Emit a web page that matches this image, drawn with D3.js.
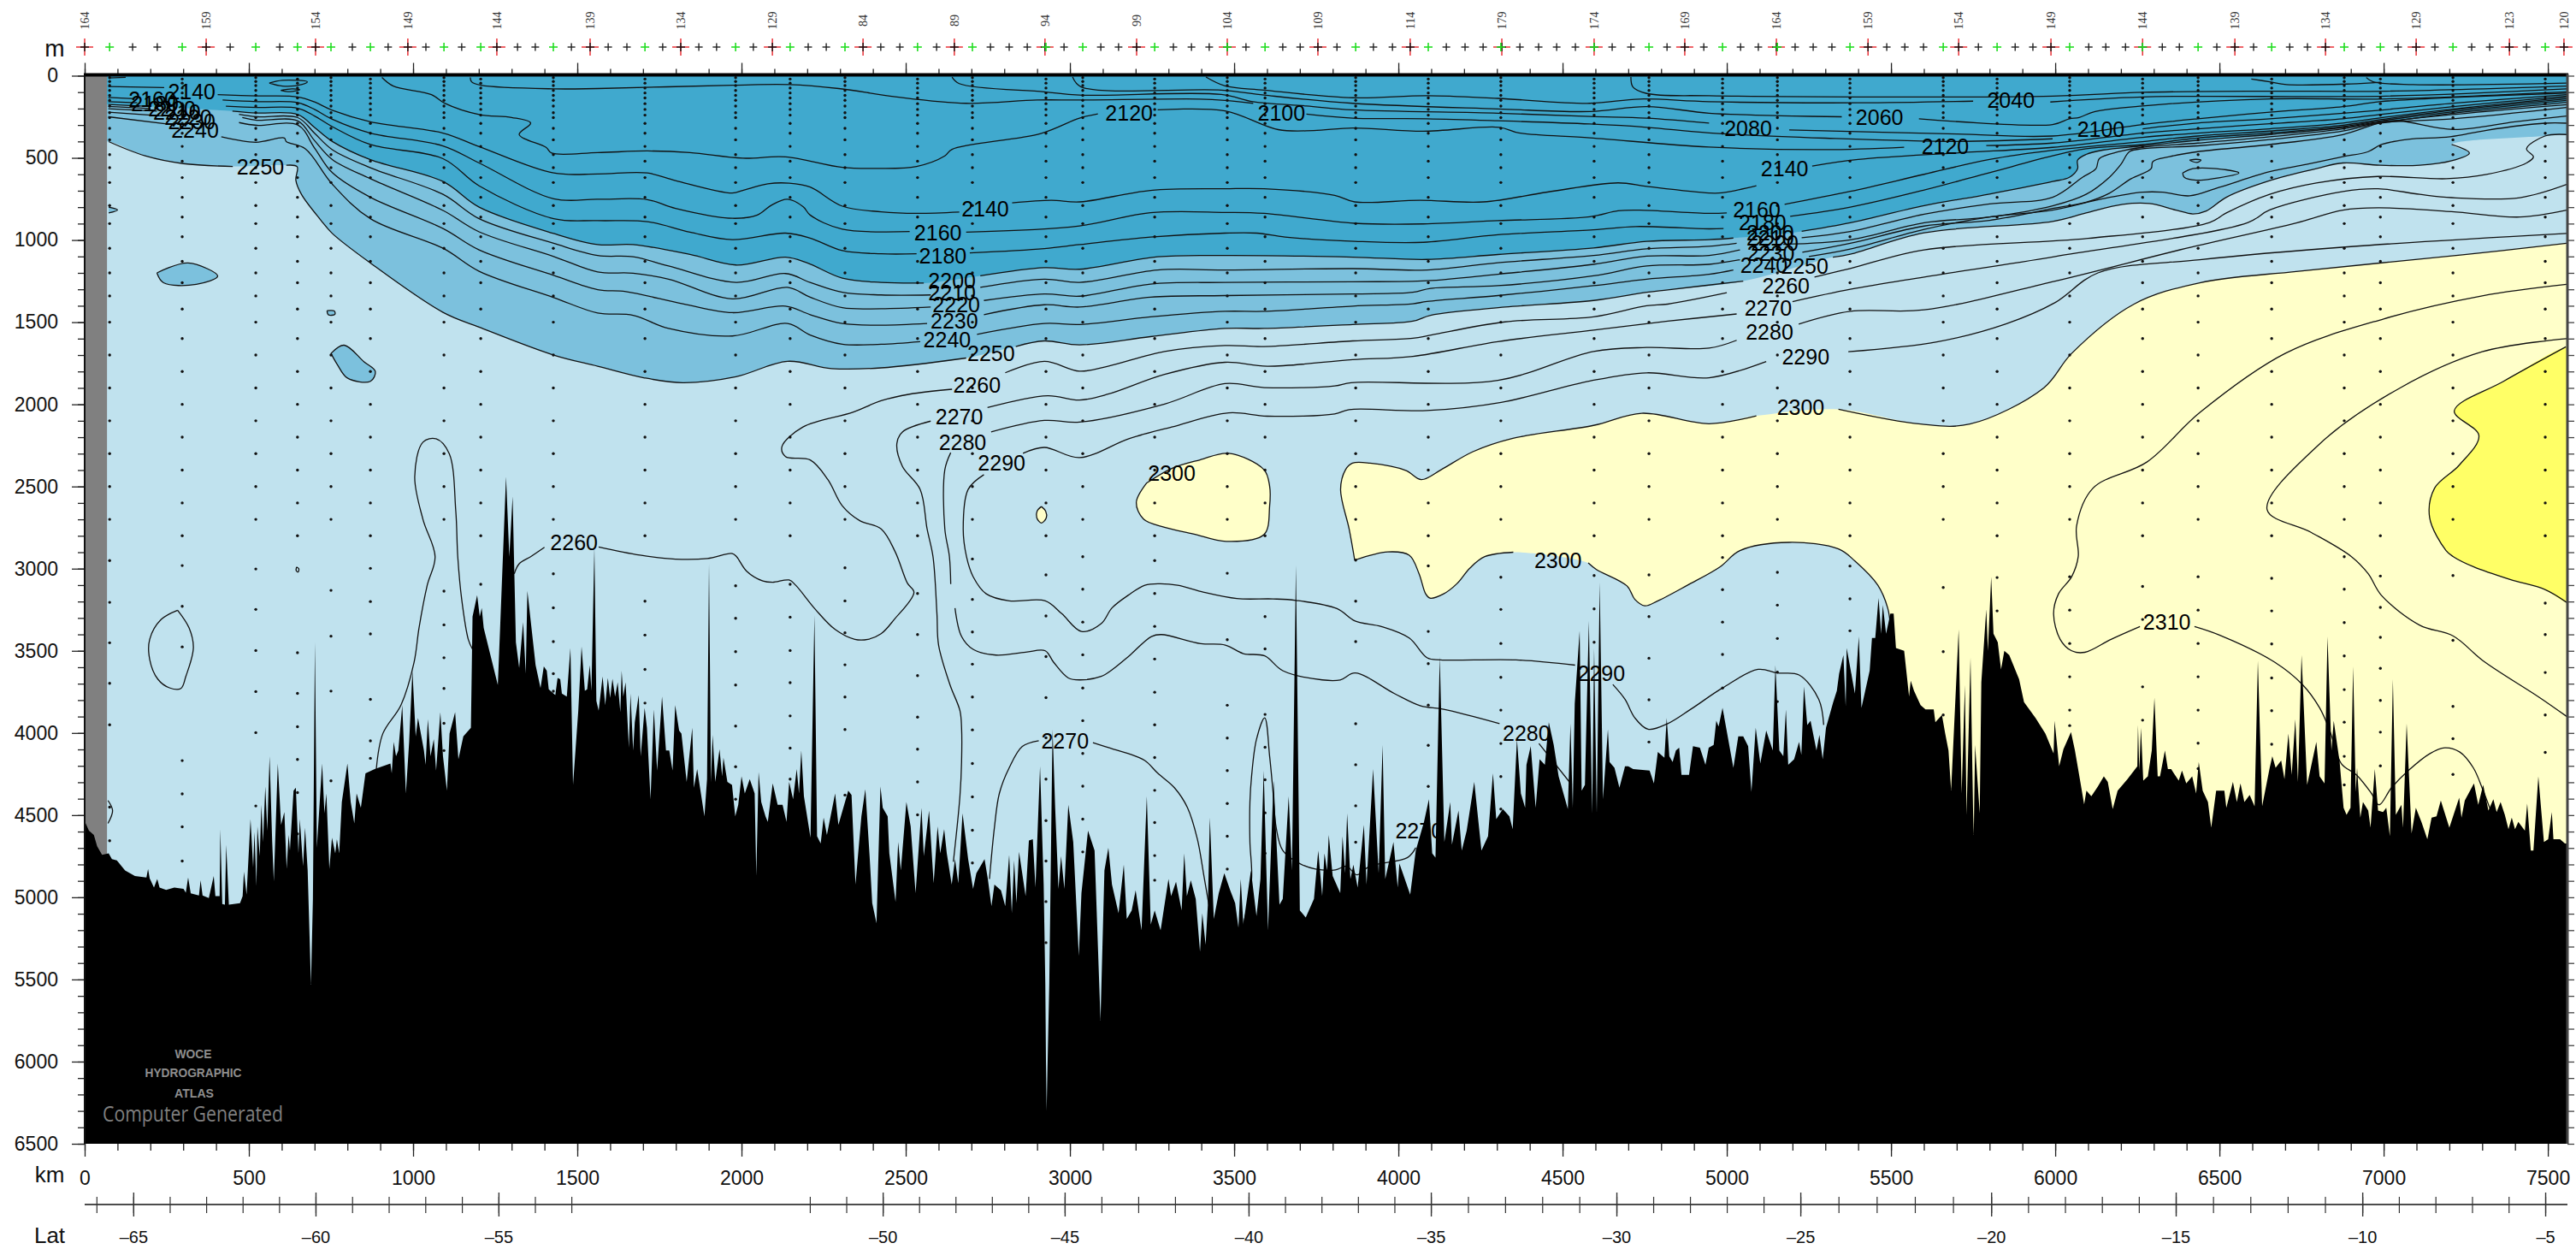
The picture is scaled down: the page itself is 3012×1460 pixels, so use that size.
<!DOCTYPE html>
<html><head><meta charset="utf-8">
<script src="https://d3js.org/d3.v7.min.js"></script>
<style>html,body{margin:0;padding:0;background:#fff}svg{display:block}text{font-family:"Liberation Sans",Arial,sans-serif}</style>
</head><body><svg id="c" width="3012" height="1460"></svg>
<script>
// ---------- axes data ----------
const depthMajor=[0,500,1000,1500,2000,2500,3000,3500,4000,4500,5000,5500,6000,6500];
const kmMajor=[0,500,1000,1500,2000,2500,3000,3500,4000,4500,5000,5500,6000,6500,7000,7500];
const latMajor=[-65,-60,-55,-50,-45,-40,-35,-30,-25,-20,-15,-10,-5];
const latKnots=[-66,-65,-60,-55,-53,-52,-50,-45,-40,-35,-30,-25,-20,-15,-10,-5];
const latKnotKm=[36,148,703,1260,1482,2208,2430,2984,3544,4099,4664,5224,5805,6367,6935,7492];
// ---------- stations ----------
const stationLabels=["164","159","154","149","144","139","134","129","84","89","94","99","104","109","114","179","174","169","164","159","154","149","144","139","134","129","123","120"];
const stationKmRed=[0,370,703,984,1255,1539,1815,2094,2370,2648,2924,3203,3479,3755,4036,4315,4596,4872,5151,5430,5706,5987,6266,6547,6823,7099,7383,7549];
const stationKmGreen=[76,297,521,648,750,870,1094,1206,1427,1706,1982,2148,2315,2536,2703,2927,3039,3258,3479,3594,3870,4091,4312,4596,4763,4987,5154,5375,5659,5823,6044,6266,6435,6659,6880,6990,7211,7492];
const stationKmBlack=[146,221,443,594,815,924,1039,1148,1318,1372,1482,1594,1651,1760,1870,1924,2036,2203,2258,2424,2482,2594,2758,2815,2870,2982,3094,3148,3315,3370,3424,3536,3648,3701,3813,3924,3982,4146,4203,4258,4370,4427,4482,4539,4651,4708,4818,4930,5042,5096,5208,5263,5320,5487,5542,5599,5766,5878,5932,6102,6154,6214,6326,6378,6492,6604,6714,6768,6932,7044,7156,7268,7323,7435];
// bottle depths per green station
const levelsA=[12,35,60,90,120,150,185,225,255,320,390,480,560,650,790,900,1050,1200,1340,1500,1700,1900,2100,2300,2500,2700];
const levelsB=[20,45,75,105,135,170,205,240,290,350,430,520,620,740,860,980,1130,1260,1420,1600,1800,2000,2200,2400,2600,2800];
const bottleDeep=[
[2951,3205,3451,3698,3950,4451,4656],[2981,3229,3476,4168,4371,4571,4779],[3002,3248,3498,3748,3998,4444],[3512,3759,3962,4161,4363,4614],[3132,3411,3745,4291],[2998,3200,3397,3795,4048,4154],[3137,3342,3542,3729,3941,4107],[3095,3298],[3031,3238,3444,3639,3746],
[3198,3404,3613,3818],[3104,3302,3505,3708,3958,4205,4403],[3095,3295,3498,3694,3896,4092,4281],[2995,3196,3390,3585,3781,3979,4378,4472],[3151,3401,3651,3903,4099,4298,4498],[2941,3187,3385,3581,3781,3981,4186,4389,4592,4791],[3038,3288,3535,3785,4029,4281,4533,4779,5026,5276],[2927,3125,3325,3524,3726,3925,4125,4324,4524,4724],
[2951,3151,3351,3550,3752,3950,4149,4349,4545,4746,4896],[3028,3432,3831,4031,4229,4429,4628,4828],[3292,3488,3887,4087,4285,4486,4732,4972],[2948,3198,3444,3944,4193,4443,4665],[2983,3382,3578,3830,4075,4325,4521],[3052,3248,3455,3661,3861,4064,4265,4463],[3042,3245,3448],
[3038,3292,3545,3798,4055],[2932,3128,3325,3522,3726,3899],[3022,3222,3425,3630,3809],[2984,3184,3378,3647],[3115,3505,3890],[3054,3257,3500],[3049,3252,3455,3658,3861,3955],
[3108,3309,3719,3922],[3049,3252,3455,3658,3861,4062,4217],[3059,3257,3458,3665,3864,4069],[2927,3125,3328,3531,3736,3934,4142,4316],[3045,3236,3418,3607,3802,3995,4200],[3042,3436,3838,4035,4252],[3210,3401,3632,3890,4118]];
// ---------- contours (km, m); null = gap at a label ----------
const c2020=[[4708,8],[4714,68],[4756,108],[4946,122],[5992,124],[6266,101],[6653,94],[7008,94],[7557,63]];
const c2040=[[3414,8],[3472,62],[3591,88],[3861,134],[4087,122],[4303,138],[4583,168],[4734,142],[4946,158],[5400,165],[5750,155],null,[5985,160],[6266,129],[7008,124],[7557,80]];
const c2060=[[3008,8],[3034,68],[3461,88],[3591,118],[3861,168],[4303,202],[4583,218],[4756,188],[4946,228],[5200,245],[5350,250],null,[5585,262],[5992,297],[6043,262],[6073,254],[6119,219],[6266,184],[6653,141],[7008,141],[7557,98]];
const c2080=[[2641,8],[2663,48],[2922,98],[3029,118],[3461,114],[3558,158],[3720,184],[3861,208],[4303,228],[4583,248],[4756,258],[4946,288],null,[5190,330],[5700,355],[5992,367],[6266,297],[6434,262],[6653,222],[6876,188],[6988,158],[7212,132],[7557,106]];
const c2100=[[1174,10],[1178,37],[1207,58],[1428,80],[1562,78],[1972,58],[2145,54],[2296,78],[2468,128],[2684,168],[2900,148],[3029,148],[3396,142],[3472,150],[3558,168],null,[3720,234],[3861,258],[4087,262],[4303,274],[4583,294],[4756,314],[4946,348],[5300,380],[5700,400],[5992,384],null,[6266,323],[6434,288],[6653,262],[6876,228],[6988,210],[7212,167],[7557,115]];
const c2120=[[905,10],[940,63],[1056,115],[1096,167],[1201,236],[1300,254],[1358,288],[1323,358],[1405,436],[1422,471],[1562,468],[1713,458],[1843,468],[2004,502],[2134,494],[2307,558],[2414,564],[2533,552],[2619,488],[2641,448],[2911,352],[3029,258],[3085,232],null,[3267,208],[3472,214],[3634,328],[3742,334],[3861,318],[4076,338],[4307,314],[4367,348],[4583,378],[4946,434],[5300,450],[5540,435],null,[5790,425],[5992,410],[6266,349],[6434,323],[6653,292],[6876,262],[6988,236],[7212,188],[7557,124]];
const c2140=[[72,66],[242,72],null,[405,115],[524,123],[649,129],[700,160],[754,210],[870,280],[1091,349],[1201,431],[1428,592],[1562,598],[1713,592],[1799,638],[1972,714],[2004,698],[2080,658],[2145,654],[2209,678],[2307,794],[2425,828],[2533,838],[2663,830],null,[2824,774],[2943,758],[3029,768],[3245,698],[3472,688],[3591,688],[3806,728],[3867,768],[4066,758],[4259,768],[4454,708],[4669,652],[4756,674],[4946,714],[4985,713],[5090,670],null,[5260,550],[5400,510],[5700,470],[5992,436],[6266,375],[6434,349],[6653,323],[6876,288],[6988,257],[7212,202],[7557,132]];
const c2160=[[72,132],[150,140],null,[420,148],[524,158],[649,164],[700,205],[754,265],[870,349],[1091,427],[1201,531],[1428,749],[1562,752],[1713,754],[1799,808],[1972,868],[2048,848],[2091,788],[2140,752],[2188,798],[2209,848],[2307,934],[2512,948],null,[2684,952],[3029,914],[3245,834],[3472,832],[3591,838],[3867,898],[4076,902],[4303,882],[4583,858],[4669,822],[4734,818],[4946,838],[5000,835],null,[5176,783],[5376,704],[5601,600],[5800,510],[5992,454],[6266,401],[6434,367],[6653,337],[6876,301],[6988,268],[7212,210],[7557,141]];
const c2180=[[72,158],[160,165],null,[430,185],[524,193],[649,198],[700,245],[754,310],[870,419],[1091,505],[1201,670],[1428,870],[1562,882],[1713,888],[1843,952],[1972,998],[2134,958],[2209,988],[2307,1064],[2425,1084],[2533,1084],null,[2695,1078],[2922,1052],[3029,1028],[3245,982],[3472,958],[3569,958],[3655,982],[3867,1008],[4076,1014],[4303,968],[4594,938],[4723,918],[4946,932],[4990,930],null,[5193,856],[5376,800],[5601,696],[5800,590],[5992,488],[6094,445],[6266,419],[6434,379],[6653,349],[6876,309],[6988,275],[7212,219],[7557,150]];
const c2200=[[72,175],[180,185],null,[450,215],[524,227],[649,236],[700,315],[754,400],[870,511],[1091,644],[1201,800],[1428,960],[1562,1028],[1670,1028],[1843,1088],[1983,1152],[2134,1104],[2199,1138],[2307,1232],[2425,1258],[2555,1262],null,[2727,1218],[2922,1168],[3029,1178],[3267,1102],[3472,1094],[3861,1104],[4087,1118],[4303,1088],[4594,1048],[4756,1008],[4946,998],[5020,988],null,[5228,947],[5376,895],[5601,791],[5800,720],[5992,644],[6043,618],[6068,566],[6068,514],[6094,479],[6144,453],[6266,427],[6434,393],[6653,358],[6876,315],[6988,280],[7049,271],[7212,228],[7491,175],[7557,162]];
const c2210=[[72,187],[200,200],null,[470,235],[524,250],[649,255],[700,350],[754,450],[870,560],[1091,722],[1201,870],[1428,1020],[1562,1094],[1670,1102],[1778,1158],[1983,1258],[2134,1204],[2209,1258],[2307,1318],[2425,1334],[2576,1334],null,[2727,1288],[2922,1238],[3029,1258],[3267,1182],[3472,1182],[3861,1174],[4087,1182],[4303,1138],[4594,1094],[4756,1054],[4946,1038],[5030,1020],null,[5228,986],[5376,948],[5601,843],[5800,780],[5992,740],[6083,618],[6124,566],[6134,505],[6195,462],[6266,436],[6434,410],[6653,372],[6876,323],[6988,285],[7212,236],[7557,176]];
const c2220=[[72,201],[220,215],null,[480,255],[524,271],[649,275],[700,395],[754,510],[870,627],[1091,820],[1201,950],[1428,1100],[1562,1194],[1670,1202],[1778,1238],[1972,1358],[2140,1288],[2209,1348],[2307,1412],[2425,1418],[2576,1408],null,[2738,1368],[2922,1328],[3029,1342],[3245,1268],[3472,1258],[3861,1254],[4087,1248],[4303,1208],[4594,1148],[4756,1098],[4946,1094],[5040,1060],null,[5172,1026],[5376,999],[5601,895],[5800,860],[5992,792],[6094,722],[6165,618],[6200,540],[6226,462],[6266,445],[6434,427],[6653,389],[6876,337],[6988,288],[7212,262],[7557,193]];
const c2230=[[72,222],[240,245],null,[470,285],[524,302],[649,300],[700,440],[754,590],[870,740],[1091,930],[1201,1060],[1428,1215],[1562,1302],[1648,1314],[1821,1388],[1972,1442],[2134,1402],[2209,1454],[2307,1508],[2425,1518],[2565,1508],null,[2738,1454],[2922,1394],[3029,1408],[3245,1348],[3472,1338],[3861,1328],[4044,1318],[4098,1294],[4303,1278],[4594,1218],[4756,1158],[4946,1148],[5040,1120],null,[5230,1075],[5376,1020],[5601,915],[5800,880],[5992,808],[6094,770],[6165,715],[6231,627],[6292,566],[6297,523],[6348,493],[6434,462],[6653,419],[6876,358],[6988,288],[7049,276],[7212,327],[7400,280],[7557,245]];
const c2240=[[72,250],[255,295],null,[416,372],[521,405],[608,379],[614,401],[672,445],[754,660],[870,870],[1091,1050],[1201,1190],[1428,1350],[1562,1444],[1670,1458],[1778,1538],[1972,1584],[2140,1508],[2209,1578],[2307,1634],[2425,1634],[2544,1618],null,[2717,1574],[2922,1508],[3029,1514],[3245,1468],[3472,1434],[3591,1434],[3861,1402],[4044,1388],[4087,1374],[4303,1338],[4594,1278],[4756,1238],[4946,1208],[5020,1182],null,[5250,1100],[5376,1055],[5601,935],[5800,860],[5992,818],[6144,749],[6266,709],[6327,709],[6409,731],[6500,679],[6653,584],[6765,540],[6876,493],[6953,462],[6993,419],[7075,387],[7202,372],[7313,332],[7491,289],[7557,289]];
const c2250=[[73,401],[184,488],[300,535],[451,552],null,[614,545],[647,554],[643,636],[660,722],[719,879],[754,960],[870,1140],[1091,1440],[1201,1530],[1428,1700],[1562,1768],[1702,1838],[1821,1868],[1983,1832],[2140,1738],[2274,1782],[2425,1778],[2684,1718],null,[2835,1648],[2922,1614],[3029,1638],[3245,1588],[3472,1538],[3591,1538],[3861,1514],[4044,1494],[4098,1458],[4325,1408],[4594,1368],[4756,1318],[4820,1303],[5050,1250],null,[5323,1104],[5376,1086],[5601,956],[5992,887],[6094,835],[6205,783],[6287,778],[6368,818],[6419,841],[6460,823],[6521,740],[6653,639],[6795,566],[6876,531],[6988,545],[7110,545],[7207,518],[7261,471],[7207,419]];
const c2260=[[1308,3031],[1323,2970],[1358,2927],[1400,2870],null,[1565,2868],[1691,2918],[1799,2942],[1896,2938],[1972,2908],[1985,2927],[2015,3014],[2065,3075],[2095,3083],[2145,3069],[2165,3101],[2225,3248],[2285,3370],[2345,3430],[2385,3430],[2425,3396],[2465,3309],[2525,3144],[2505,3088],[2468,2898],[2425,2758],[2360,2708],[2307,2618],[2263,2458],[2209,2338],[2134,2318],[2123,2258],[2187,2138],[2339,2048],[2425,1978],[2512,1938],[2641,1908],null,[2803,1808],[2922,1738],[3029,1798],[3116,1768],[3288,1678],[3472,1642],[3591,1648],[3861,1614],[4044,1598],[4100,1578],[4325,1498],[4594,1468],[4756,1400],[4820,1390],[5000,1321],null,[5267,1225],[5376,1173],[5601,1060],[6100,990],[6470,893],[6521,835],[6653,722],[6795,653],[6983,613],[7191,627],[7313,601],[7435,531],[7456,494],[7435,445],[7491,367],[7557,358]];
const c2260Loop=[[1181,3491],[1168,3430],[1148,3187],[1136,2927],[1130,2650],[1110,2300],[1070,2210],[1030,2230],[1005,2440],[1030,2700],[1067,2927],[1043,3101],[1018,3361],[1003,3569],[963,3830],[908,4003],[888,4220]];
const c2270=[[2645,4784],[2665,4385],[2670,4177],[2670,3969],[2665,3864],[2635,3708],[2600,3465],[2595,3274],[2583,2927],[2565,2758],[2544,2518],[2490,2378],[2473,2238],[2490,2168],[2576,2102],null,[2749,2020],[2932,1948],[3029,1974],[3116,1938],[3288,1818],[3472,1744],[3601,1768],[3861,1728],[4044,1708],[4303,1618],[4594,1548],[4820,1494],[5030,1450],null,[5200,1375],[5376,1300],[5601,1225],[6000,1100],[6587,893],[6653,817],[6876,705],[6983,688],[7110,722],[7207,742],[7415,742],[7557,662]];
const c2270Low=[[2755,4889],[2770,4576],[2785,4368],[2815,4212],[2855,4082],[2905,4047],null,[3070,4059],[3133,4099],[3178,4125],[3228,4168],[3268,4246],[3318,4333],[3358,4455],[3388,4646],[3408,4871],[3423,5045]];
const c2270Low2=[[3528,5166],[3553,4889],[3548,4663],[3548,4420],[3553,4264],[3568,4038],[3593,3908],[3608,4142],[3618,4351],[3628,4576],[3648,4715],[3698,4793],[3748,4828],[3808,4833],[3843,4811],[3873,4863],[3913,4811],[4028,4758],[4053,4698]];
const c2280=[[2637,3094],[2633,2927],[2619,2758],[2619,2398],[2637,2294],null,[2760,2168],[2922,2098],[3029,2108],[3288,1998],[3472,1874],[3591,1898],[3806,1888],[3856,1868],[4303,1854],[4594,1678],[4756,1654],[4946,1658],[5030,1610],null,[5219,1512],[5376,1434],[5601,1425],[6000,1250],[6400,1050],[6734,896],[6876,818],[6983,804],[7207,827],[7415,860],[7557,818]];
const c2280Low=[[2650,3240],[2670,3413],[2705,3491],[2775,3526],[2865,3508],[2925,3500],[2950,3569],[2995,3665],[3030,3677],[3095,3656],[3128,3616],[3178,3535],[3248,3413],[3278,3401],[3398,3456],[3473,3465],[3528,3517],[3593,3531],[3648,3621],[3768,3677],[3823,3677],[3868,3635],[3988,3760],[4068,3835],[4138,3856],[4308,3943],null,[4428,4064],[4528,4316]];
const c2290=[[2857,2298],[2922,2262],[3029,2324],[3181,2208],[3310,2138],[3483,2052],[3601,2072],[3806,2058],[3850,2032],[4087,2038],[4313,1988],[4583,1858],[4756,1808],[4946,1838],[5120,1740],null,[5370,1680],[5640,1620],[5850,1510],[6000,1380],[6130,1200],[6440,1120],[6900,1040],[7557,960]];
const c2290Low=[[2738,2428],[2690,2518],[2675,2758],[2685,2927],[2705,3048],[2745,3153],[2815,3196],[2925,3196],[2975,3274],[3035,3382],[3095,3335],[3128,3239],[3178,3161],[3228,3101],[3273,3092],[3328,3101],[3408,3144],[3508,3182],[3618,3184],[3688,3193],[3813,3243],[3868,3318],[3948,3352],[4033,3422],[4088,3543],[4128,3555],[4358,3555],[4538,3587],null,[4653,3705],[4690,3795],[4720,3908],[4760,3977],[4820,3943],[4890,3856],[4987,3726],[5095,3613],[5155,3635],[5220,3647],[5280,3795],[5295,3951]];
const c2300North=[[3867,2948],[3850,2758],[3824,2518],[3839,2398],[3860,2358],[3914,2358],[4022,2402],[4070,2458],[4130,2398],[4227,2288],[4346,2208],[4594,2128],[4741,2054],[4946,2118],[5090,2070],null,[5340,2030],[5590,2120],[5740,2120],[5965,1900],[6050,1690],[6240,1390],[6440,1260],[6740,1190],[7240,1090],[7557,1020]];
const c2300South=[[3867,2948],[3968,2898],[4033,2918],[4063,3031],[4083,3153],[4096,3179],[4138,3153],[4178,3092],[4218,2996],[4263,2927],[4350,2900],null,[4578,2965],[4603,3005],[4696,3105],[4720,3187],[4750,3226],[4790,3196],[4880,3101],[4980,2988],[5040,2890],[5190,2840],[5340,2880],[5390,2953],[5460,3101],[5490,3240],[5498,3344]];
const c2300Lobe=[[3234,2478],[3202,2598],[3224,2698],[3288,2748],[3375,2788],[3476,2834],[3591,2792],[3608,2618],[3608,2498],[3591,2398],[3483,2298],[3396,2338],[3310,2390],[3234,2478]];
const c2300Tiny=[[2913,2622],[2926,2650],[2928,2690],[2913,2722],[2899,2690],[2900,2650],[2913,2622]];
const c2310A=[[7557,1270],[7300,1340],[7000,1480],[6700,1690],[6440,2050],[6280,2350],[6115,2510],[6065,2740],[6070,2927],[6050,3049],[6010,3153],[5995,3274],[6015,3430],[6050,3500],[6090,3509],[6170,3430],[6258,3352],null,[6424,3352],[6500,3404],[6668,3569],[6754,3708],[6805,3847],[6836,3986],[6871,4186],[6917,4255],[6963,4368],[6986,4437],[7024,4333],[7075,4229],[7141,4125],[7186,4090],[7232,4116],[7273,4212],[7303,4351],[7329,4489]];
const c2310B=[[7557,1600],[7300,1680],[7050,1900],[6800,2250],[6645,2640],[6780,2780],[6902,2927],[6953,3031],[6993,3162],[7110,3344],[7212,3410],[7303,3561],[7476,3786],[7557,3899]];
const c2320=[[7555,1650],[7365,1860],[7215,2040],[7290,2190],[7230,2370],[7155,2510],[7140,2690],[7190,2890],[7212,2927],[7273,2988],[7385,3066],[7491,3127],[7557,3205]];
const islands=[
 {fill:1,pts:[[220,1200],[315,1140],[405,1220],[340,1270],[240,1260],[220,1200]]},
 {fill:1,pts:[[750,1690],[790,1640],[850,1740],[885,1800],[870,1860],[800,1840],[770,1760],[750,1690]]},
 {fill:1,pts:[[738,1430],[760,1432],[762,1452],[742,1455],[738,1430]]},
 {fill:1,pts:[[73,800],[100,817],[73,835]]},
 {fill:0,pts:[[562,45],[602,28],[678,37],[660,54],[602,63],[562,45]]},
 {fill:0,pts:[[597,89],[631,80],[655,85],[625,97],[597,89]]},
 {fill:0,pts:[[283,3253],[233,3309],[198,3430],[198,3552],[223,3673],[258,3725],[293,3729],[308,3656],[331,3482],[318,3361],[283,3253]]},
 {fill:0,pts:[[645,2990],[652,3000],[650,3020],[644,3012],[645,2990]]},
 {fill:0,pts:[[71,4411],[85,4472],[71,4550]]},
 {fill:0,pts:[[6388,592],[6419,566],[6490,566],[6559,592],[6480,627],[6429,636],[6393,618],[6388,592]]},
 {fill:0,pts:[[6409,514],[6429,509],[6444,514],[6431,528],[6409,514]]},
 {fill:0,pts:[[6597,20],[6653,37],[6704,54],[6900,50],[6990,40]]},
 {fill:0,pts:[[6947,11],[6968,37],[7090,54],[7557,45]]},
 {fill:0,pts:[[73,14],[125,10]]}];
const labels=[["2140",326,94],["2160",206,141],["2180",214,167],["2200",266,203],["2210",281,219],["2220",315,255],["2230",326,281],["2240",336,333],["2250",535,557],
["2140",2742,808],["2160",2598,954],["2180",2613,1094],["2200",2641,1248],["2210",2641,1318],["2220",2654,1394],["2230",2648,1494],["2240",2626,1608],["2250",2760,1688],["2260",2717,1882],["2270",2663,2074],["2280",2673,2232],["2290",2792,2354],["2300",3310,2418],["2300",4486,2948],["2120",3180,224],["2100",3644,224],
["2080",5065,320],["2060",5465,250],["2040",5865,150],["2100",6139,327],["2120",5665,430],["2140",5176,566],["2160",5091,817],["2180",5109,892],["2200",5132,956],["2210",5132,986],["2220",5146,1017],["2230",5134,1078],["2240",5113,1151],["2250",5237,1159],["2260",5180,1277],["2270",5126,1413],["2280",5130,1560],["2290",5240,1710],["2300",5225,2020],["2310",6340,3325],["2270",2985,4047],["2280",4390,4003],["2290",4618,3639],["2260",1490,2840],["2270",4063,4597]];
// ---------- bottom topography (km, m) ----------
const bathyWest=[[0,4540],[3,4550],[13,4594],[28,4620],[38,4689],[53,4741],[73,4732],[83,4767],[98,4776],[123,4837],[153,4871],[188,4880],[193,4828],[198,4885],[211,4941],[221,4889],[228,4941],[248,4955],[273,4941],[301,4949],[308,4972],[315,4880],[323,4976],[348,4989],[353,4897],[359,4989],[378,5005],[393,4871],[398,4993],[411,4993],[413,4585],[419,5041],[427,5045],[431,4680],[439,5045],[473,5036],[481,4993],[485,4845],[493,4984],[505,4524],[513,4819],[517,4602],[523,4932],[526,4568],[533,4750],[538,4437],[543,4663],[550,4325],[556,4594],[563,4142],[571,4663],[576,4903],[588,4186],[598,4559],[608,4481],[615,4828],[621,4620],[625,4715],[636,4351],[643,4333],[651,4732],[655,4524],[665,4811],[671,4576],[679,4837],[689,5531],[695,5010],[701,3448],[707,4698],[723,4186],[730,4489],[736,4368],[745,4828],[753,4637],[763,4732],[768,4646],[775,4732],[783,4420],[800,4186],[810,4420],[821,4550],[828,4368],[841,4455],[855,4246],[883,4220],[931,4186],[935,4246],[941,4055],[948,4142],[955,4107],[967,3830],[978,4368],[988,4055],[998,3621],[1008,4021],[1015,3908],[1033,4107],[1038,4194],[1045,3917],[1053,4142],[1063,4038],[1070,4229],[1083,3873],[1091,4142],[1103,4351],[1111,4003],[1128,3873],[1138,4160],[1153,4021],[1176,3969],[1181,3292],[1195,3161],[1203,3292],[1209,3239],[1215,3361],[1258,3708],[1265,3361],[1283,2440],[1293,2927],[1303,2560],[1313,3448],[1323,3604],[1335,3326],[1343,3639],[1348,3135],[1373,3587],[1388,3726],[1398,3595],[1407,3621],[1413,3734],[1433,3769],[1440,3665],[1448,3673],[1453,3760],[1468,3778],[1479,3483],[1487,4316],[1503,3864],[1513,3474],[1523,3743],[1530,3734],[1538,3587],[1543,3743],[1552,2870],[1558,3804]];
const bathyMid1=[[1565,3864],[1577,3656],[1585,3830],[1593,3665],[1600,3786],[1607,3670],[1615,3778],[1623,3691],[1631,3873],[1635,3621],[1640,3778],[1647,3691],[1657,4090],[1662,3760],[1670,4107],[1675,3934],[1687,3769],[1693,4142],[1705,3847],[1712,3969],[1723,4403],[1733,3856],[1743,4229],[1758,3778],[1770,4107],[1780,4107],[1790,4229],[1798,3830],[1810,3986],[1817,4003],[1833,4298],[1850,3969],[1855,4333],[1865,4220],[1887,4507],[1895,4281],[1901,2970],[1907,4298],[1912,4012],[1920,4298],[1933,4099],[1941,4264],[1945,4151],[1957,4298],[1971,4316],[1981,4507],[1990,4437],[2000,4264],[2010,4368],[2025,4281],[2040,4368],[2045,4871],[2052,4238],[2060,4420],[2073,4507],[2080,4541],[2095,4307],[2110,4437],[2125,4437],[2137,4541],[2145,4298],[2157,4403],[2168,4220],[2175,4368],[2182,4107],[2190,4385],[2210,4637],[2222,3283],[2230,4628],[2241,4672],[2250,4515],[2260,4620],[2285,4368],[2295,4559],[2325,4351],[2335,4377],[2347,4923],[2365,4507],[2377,4342],[2390,4750],[2398,5036],[2411,5158],[2423,4325],[2430,4455],[2445,4507],[2450,4732],[2469,5028],[2477,4663],[2485,4837],[2502,4420],[2515,4568],[2530,4975],[2548,4455],[2555,4750],[2571,4472],[2585,4915],[2597,4568],[2605,4732],[2617,4585],[2625,4732],[2640,4923],[2650,4767],[2660,4915],[2673,4489],[2690,4767],[2705,4949],[2715,4854],[2740,4767],[2750,4889],[2761,5054],[2770,4923],[2790,4958],[2803,5054],[2815,4741],[2823,5097],[2830,4776],[2837,5036],[2845,4724],[2865,4993],[2875,4654],[2887,4646],[2895,4941],[2909,4203],[2920,4923],[2925,5531],[2927,6000],[2929,6300],[2932,6000],[2937,5531],[2943,4600],[2947,3977],[2955,4455],[2965,4949],[2973,4750],[2983,4949],[2995,4437],[3010,4663],[3027,5357],[3035,4975],[3055,4594],[3075,4715],[3093,5750],[3105,4837],[3117,4698]];
const bathyMid2=[[3128,4923],[3148,5097],[3164,4802],[3173,5132],[3188,5080],[3200,4958],[3218,5201],[3234,4385],[3246,5166],[3258,5080],[3276,5201],[3300,4889],[3308,4993],[3323,4906],[3340,5080],[3348,4732],[3356,4993],[3368,4897],[3383,5010],[3396,5331],[3403,5097],[3413,5288],[3420,5045],[3426,4515],[3438,5132],[3453,4976],[3470,4854],[3488,4958],[3503,5036],[3513,5184],[3520,4889],[3528,5166],[3551,4837],[3568,5114],[3580,4889],[3590,4229],[3603,5201],[3620,4290],[3638,5045],[3648,5010],[3666,4385],[3676,4837],[3688,2979],[3700,5080],[3718,5123],[3743,5010],[3756,4715],[3768,4993],[3775,4732],[3783,4837],[3788,4620],[3800,4871],[3823,4975],[3830,4628],[3838,4854],[3844,4489],[3854,4889],[3863,4802],[3876,4941],[3895,4559],[3903,4923],[3923,4220],[3940,4854],[3952,4073],[3960,4889],[3985,4663],[3998,4941],[4003,4793],[4036,4984],[4053,4715],[4078,4541],[4093,4403],[4103,4732],[4113,4758],[4126,3535],[4140,4663],[4158,4420],[4163,4680],[4183,4472],[4193,4715],[4208,4594],[4231,4298],[4253,4715],[4273,4628],[4288,4246],[4298,4524],[4318,4463],[4338,4507],[4348,4585],[4361,4038],[4373,4368],[4386,4455],[4390,4194],[4403,4081],[4418,4455],[4430,4160],[4446,4194],[4458,3934],[4473,4073],[4488,4264],[4516,4463],[4524,3943],[4531,4455],[4537,3821],[4552,3378],[4558,4351],[4568,4316],[4580,3318],[4590,4489],[4596,3483],[4604,4489],[4613,3083],[4623,4403],[4638,3977],[4643,4177],[4658,4212],[4673,4333],[4688,4220]];
const bathyEast1=[[4690,4203],[4700,4203],[4715,4220],[4765,4229],[4778,4307],[4790,4116],[4810,4151],[4817,3908],[4825,4142],[4835,4177],[4845,4107],[4855,4090],[4862,4255],[4885,4255],[4897,4081],[4918,4090],[4935,4194],[4945,4090],[4960,4073],[4968,3925],[4975,3960],[4987,3847],[4998,3969],[5020,4212],[5035,4021],[5050,4021],[5065,4081],[5075,4359],[5088,3969],[5102,4186],[5120,3986],[5140,4107],[5148,3587],[5160,4107],[5172,4142],[5180,3856],[5187,4194],[5205,4160],[5220,4055],[5227,4134],[5235,3717],[5245,3951],[5255,3925],[5273,4107],[5282,4012],[5292,4160],[5302,3969],[5324,3812],[5335,3743],[5342,3639],[5355,3526],[5362,3838],[5365,3483],[5390,3760],[5402,3413],[5410,3847],[5435,3621],[5442,3422],[5452,3422],[5462,3179],[5470,3396],[5475,3222],[5485,3396],[5498,3274],[5508,3274],[5515,3483],[5540,3500],[5555,3778],[5560,3682],[5570,3743],[5590,3830],[5605,3856],[5630,3856],[5635,3934],[5655,3890],[5665,4003],[5675,4107],[5683,4350],[5706,3370],[5715,4368],[5725,3708],[5730,4498],[5742,3543],[5750,4489],[5752,4620],[5756,4073],[5770,4489],[5775,3691],[5790,3248],[5795,3500],[5805,3049],[5812,3396],[5825,3448],[5835,3613],[5845,3500],[5860,3526],[5890,3673],[5905,3812],[5940,3908],[5970,4003],[5995,4125],[5998,3925],[6012,4203],[6025,4099],[6048,3995],[6060,4107],[6075,4281],[6088,4434],[6095,4351],[6110,4385],[6130,4325],[6148,4264],[6160,4298],[6175,4463],[6190,4351],[6220,4281],[6250,4203]];
const bathyEast2=[[6252,3951],[6256,4229],[6261,3969],[6268,4290],[6282,4264],[6294,4107],[6302,3786],[6312,4264],[6319,4264],[6334,4107],[6343,4220],[6353,4220],[6376,4290],[6386,4229],[6399,4307],[6417,4264],[6429,4368],[6437,4177],[6449,4351],[6465,4420],[6475,4576],[6490,4351],[6515,4351],[6521,4455],[6541,4298],[6553,4420],[6564,4307],[6576,4420],[6592,4377],[6607,4446],[6617,3561],[6630,4446],[6653,4212],[6661,4142],[6671,4212],[6688,4168],[6698,4281],[6710,4003],[6720,4255],[6731,3917],[6739,4298],[6750,3526],[6767,4316],[6795,4055],[6805,4264],[6820,4307],[6829,3413],[6841,4107],[6848,3925],[6866,4177],[6878,4455],[6887,4498],[6899,4455],[6907,3595],[6915,4359],[6919,4212],[6929,4515],[6937,4420],[6953,4472],[6960,4576],[6973,4220],[6983,4472],[6998,4481],[7008,4455],[7019,4628],[7028,3673],[7037,4498],[7054,4437],[7059,4576],[7070,3943],[7085,4611],[7098,4455],[7115,4541],[7133,4646],[7146,4515],[7161,4507],[7174,4411],[7200,4576],[7230,4394],[7237,4515],[7247,4411],[7275,4307],[7288,4437],[7303,4316],[7319,4472],[7334,4403],[7344,4481],[7356,4420],[7369,4498],[7380,4585],[7390,4515],[7400,4585],[7410,4541],[7430,4594],[7437,4429],[7448,4715],[7456,4715],[7471,4264],[7488,4663],[7501,4646],[7512,4481],[7517,4646],[7537,4646],[7552,4672],[7557,4672]];
// ---------- colours ----------
const DEEP="#40a9ce",MID="#7cc1dd",LIGHT="#c0e2ee",PALE="#ffffc9",YEL="#ffff66";

const svg=d3.select("#c");
const L=99,R=3001,T=88.5,B=1337;
const x=d3.scaleLinear().domain([0,7557]).range([L,R]);
const y=d3.scaleLinear().domain([0,6500]).range([T,B]);
const px=d=>x(d[0]),py=d=>y(d[1]);
const curve=d3.curveCatmullRom.alpha(0.5);
const line=d3.line().defined(d=>d).x(px).y(py).curve(curve);
const clean=a=>a.filter(d=>d);
svg.append("defs").append("clipPath").attr("id","plot").append("rect").attr("x",L).attr("y",T).attr("width",R-L).attr("height",B-T);
const g=svg.append("g").attr("clip-path","url(#plot)");
const fillP=(pts,c)=>g.append("path").attr("d",line(pts)+"Z").attr("fill",c);
// fills
g.append("rect").attr("x",L).attr("y",T).attr("width",R-L).attr("height",B-T).attr("fill",LIGHT);
fillP([[0,0],[0,400],...clean(c2250),[7491,367],[7557,358],[7600,358],[7600,-50],[0,-50]],MID);
islands.filter(d=>d.fill).forEach(d=>fillP(d.pts,MID));
fillP([[0,-50],[0,175],...clean(c2200),[7600,155],[7600,-50]],DEEP);
fillP([...clean(c2300North),[7600,1020],[7600,6500],[5498,6500],...clean(c2300South).reverse()],PALE);
fillP(c2300Lobe,PALE);fillP(c2300Tiny,PALE);
fillP([[7600,1650],...c2320,[7600,3205]],YEL);
// grey strip
g.append("rect").attr("x",x(0)).attr("y",T).attr("width",x(68)-x(0)).attr("height",y(4800)-T).attr("fill","#808080");
// bottle dots
const dots=stationKmGreen.flatMap((k,i)=>(i%2?levelsB:levelsA).concat(bottleDeep[i]).map(m=>[k,m]));
g.append("g").selectAll("circle").data(dots).join("circle").attr("cx",px).attr("cy",py).attr("r",1.7).attr("fill","#111");
// contour lines
const allLines=[c2020,c2040,c2060,c2080,c2100,c2120,c2140,c2160,c2180,c2200,c2210,c2220,c2230,c2240,c2250,c2260,c2260Loop,c2270,c2270Low,c2270Low2,c2280,c2280Low,c2290,c2290Low,c2300North,c2300South,c2300Lobe,c2300Tiny,c2310A,c2310B,c2320,...islands.map(d=>d.pts)];
g.append("g").selectAll("path").data(allLines).join("path").attr("d",line).attr("fill","none").attr("stroke","#111").attr("stroke-width",1.3);
// contour labels
g.append("g").selectAll("text").data(labels).join("text").attr("x",d=>x(d[1])).attr("y",d=>y(d[2])).attr("text-anchor","middle").attr("dy",".36em").attr("font-size",25).attr("fill","#000").text(d=>d[0]);
// topography
const area=d3.area().x(px).y0(B).y1(py).curve(d3.curveLinear);
g.append("path").attr("d",area([...bathyWest,...bathyMid1,...bathyMid2,...bathyEast1,...bathyEast2])).attr("fill","#000");
// WOCE stamp
const stamp=[["WOCE",226,1237,43,"bold",15,"#8e8e8e"],["HYDROGRAPHIC",226,1259,113,"bold",14,"#8e8e8e"],["ATLAS",227,1283,46,"bold",15,"#8e8e8e"]];
stamp.forEach(s=>g.append("text").attr("x",s[1]).attr("y",s[2]).attr("text-anchor","middle").attr("textLength",s[3]).attr("lengthAdjust","spacingAndGlyphs").attr("font-weight",s[4]).attr("font-size",s[5]).attr("fill",s[6]).text(s[0]));
g.append("text").attr("x",120).attr("y",1311).attr("textLength",211).attr("lengthAdjust","spacingAndGlyphs").attr("font-size",25).attr("fill","#7f7f7f").style("font-family","'Open Sans'").text("Computer Generated");

// axes
const style=(sel,w=1.3,c="#222")=>{sel.select(".domain").remove();sel.selectAll("line").attr("stroke",c).attr("stroke-width",w);sel.selectAll("text").attr("fill","#111").style("font-family","'Liberation Sans'");return sel;};
const kmMinor=d3.range(0,7600,100);
const dMinor=d3.range(0,6600,100);
style(svg.append("g").attr("transform",`translate(0,${T})`).call(d3.axisTop(x).tickValues(kmMinor).tickSize(8).tickFormat("")));
style(svg.append("g").attr("transform",`translate(0,${T})`).call(d3.axisTop(x).tickValues(kmMajor).tickSize(15).tickFormat("")));
style(svg.append("g").attr("transform",`translate(0,${B})`).call(d3.axisBottom(x).tickValues(kmMinor).tickSize(8).tickFormat("")));
style(svg.append("g").attr("transform",`translate(0,${B})`).call(d3.axisBottom(x).tickValues(kmMajor).tickSize(15).tickPadding(17).tickFormat(d3.format("d")))).selectAll("text").attr("font-size",23);
style(svg.append("g").attr("transform",`translate(${L},0)`).call(d3.axisLeft(y).tickValues(dMinor).tickSize(8).tickFormat("")));
style(svg.append("g").attr("transform",`translate(${L},0)`).call(d3.axisLeft(y).tickValues(depthMajor).tickSize(15).tickPadding(16).tickFormat(d3.format("d")))).selectAll("text").attr("font-size",23);
style(svg.append("g").attr("transform",`translate(${R+1},0)`).call(d3.axisRight(y).tickValues(dMinor).tickSize(8).tickFormat("")),1.3,"#444");
// frame
svg.append("line").attr("x1",L-1).attr("x2",R+2).attr("y1",T-1).attr("y2",T-1).attr("stroke","#000").attr("stroke-width",4);
svg.append("line").attr("x1",L).attr("x2",L).attr("y1",T).attr("y2",B).attr("stroke","#111").attr("stroke-width",2);
svg.append("line").attr("x1",R+1).attr("x2",R+1).attr("y1",T-2).attr("y2",B).attr("stroke","#444").attr("stroke-width",3);
// latitude axis
const latKm=d3.scaleLinear().domain(latKnots).range(latKnotKm);
const latScale=v=>x(latKm(v));
const latAxisScale=Object.assign(v=>latScale(v),{copy(){return latAxisScale},domain(){return [-66,-5]},range(){return [L,R]}});
const yLat=1408;
svg.append("line").attr("x1",L).attr("x2",R+1).attr("y1",yLat).attr("y2",yLat).attr("stroke","#111").attr("stroke-width",1.5);
style(svg.append("g").attr("transform",`translate(0,${yLat-9})`).call(d3.axisBottom(latAxisScale).tickValues(d3.range(-66,-4)).tickSize(19).tickFormat("")),1.2,"#333");
style(svg.append("g").attr("transform",`translate(0,${yLat-14})`).call(d3.axisBottom(latAxisScale).tickValues(latMajor).tickSize(28).tickPadding(17).tickFormat(d=>"–"+Math.abs(d))),1.4,"#333").selectAll("text").attr("font-size",20);
// axis titles
[["m",64,66,28],["km",58,1382,26],["Lat",58,1453,26]].forEach(t=>svg.append("text").attr("x",t[1]).attr("y",t[2]).attr("text-anchor","middle").attr("font-size",t[3]).attr("fill","#111").text(t[0]));
// station crosses
const yC=55;
function crosses(data,half,color,w){
  const s=svg.append("g");
  s.selectAll("line.h").data(data).join("line").attr("class","h").attr("x1",d=>x(d)-half).attr("x2",d=>x(d)+half).attr("y1",yC).attr("y2",yC).attr("stroke",color).attr("stroke-width",w);
  s.selectAll("line.v").data(data).join("line").attr("class","v").attr("x1",x).attr("x2",x).attr("y1",yC-half).attr("y2",yC+half).attr("stroke",color).attr("stroke-width",w);
}
crosses(stationKmRed,10,"#e8232a",1.4);
crosses(stationKmRed,5,"#111",1.4);
crosses(stationKmBlack,4.5,"#222",1.4);
crosses(stationKmGreen,5,"#22dd22",1.6);
// station numbers
svg.append("g").selectAll("text").data(stationLabels).join("text").attr("transform",(d,i)=>`translate(${x(stationKmRed[i])},24) rotate(-90)`).attr("text-anchor","middle").attr("dy",".34em").attr("font-size",14).attr("fill","#333").style("font-family","'Liberation Serif'").text(d=>d);
</script></body></html>
